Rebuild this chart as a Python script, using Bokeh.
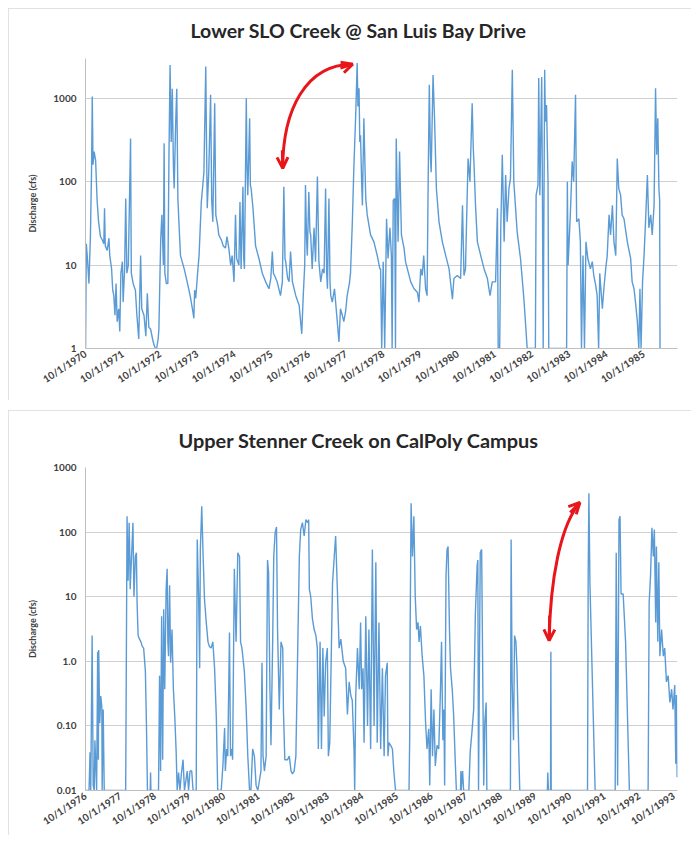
import numpy as np
import pandas as pd
from bokeh.plotting import figure
from bokeh.layouts import column
from bokeh.models import (Range1d, FixedTicker, CustomJSTickFormatter, Arrow, OpenHead, Title)
from bokeh.embed import file_html
from bokeh.resources import INLINE

# ---------------- data (decimal year, discharge cfs) ----------------
slo_title = "Lower SLO Creek @ San Luis Bay Drive"
slo_year = [1970.75, 1970.77, 1970.80, 1970.84, 1970.88, 1970.91, 1970.93, 1970.95, 1970.98, 1971.02,
            1971.06, 1971.10, 1971.15, 1971.20, 1971.24, 1971.26, 1971.28, 1971.33, 1971.38, 1971.40,
            1971.45, 1971.48, 1971.51, 1971.54, 1971.57, 1971.60, 1971.64, 1971.67, 1971.70, 1971.74,
            1971.76, 1971.80, 1971.83, 1971.86, 1971.90, 1971.96, 1971.98, 1972.03, 1972.09, 1972.13,
            1972.18, 1972.23, 1972.26, 1972.32, 1972.37, 1972.41, 1972.45, 1972.50, 1972.55, 1972.59,
            1972.63, 1972.66, 1972.70, 1972.72, 1972.75, 1972.77, 1972.80, 1972.84, 1972.86, 1972.88,
            1972.92, 1972.96, 1972.99, 1973.02, 1973.05, 1973.08, 1973.11, 1973.13, 1973.17, 1973.20,
            1973.23, 1973.27, 1973.30, 1973.40, 1973.48, 1973.56, 1973.62, 1973.66, 1973.68, 1973.71,
            1973.76, 1973.80, 1973.86, 1973.90, 1973.93, 1973.98, 1974.00, 1974.02, 1974.06, 1974.11,
            1974.14, 1974.17, 1974.22, 1974.25, 1974.30, 1974.33, 1974.40, 1974.45, 1974.51, 1974.55,
            1974.60, 1974.65, 1974.69, 1974.74, 1974.78, 1974.81, 1974.87, 1974.90, 1974.93, 1974.98,
            1975.00, 1975.02, 1975.07, 1975.09, 1975.11, 1975.16, 1975.18, 1975.20, 1975.25, 1975.32,
            1975.41, 1975.50, 1975.59, 1975.68, 1975.73, 1975.77, 1975.80, 1975.83, 1975.90, 1975.99,
            1976.04, 1976.08, 1976.11, 1976.13, 1976.18, 1976.22, 1976.26, 1976.31, 1976.40, 1976.49,
            1976.56, 1976.60, 1976.64, 1976.66, 1976.69, 1976.71, 1976.75, 1976.78, 1976.80, 1976.84,
            1976.89, 1976.93, 1976.98, 1977.02, 1977.07, 1977.12, 1977.16, 1977.20, 1977.23, 1977.25,
            1977.29, 1977.32, 1977.34, 1977.38, 1977.44, 1977.50, 1977.56, 1977.60, 1977.65, 1977.69,
            1977.74, 1977.78, 1977.84, 1977.87, 1977.92, 1977.96, 1978.01, 1978.05, 1978.07, 1978.10,
            1978.12, 1978.14, 1978.17, 1978.19, 1978.23, 1978.28, 1978.32, 1978.41, 1978.50, 1978.59,
            1978.66, 1978.68, 1978.71, 1978.75, 1978.79, 1978.84, 1978.88, 1978.93, 1978.97, 1978.99,
            1979.02, 1979.06, 1979.08, 1979.10, 1979.15, 1979.19, 1979.24, 1979.31, 1979.35, 1979.40,
            1979.49, 1979.58, 1979.67, 1979.71, 1979.76, 1979.80, 1979.84, 1979.89, 1979.93, 1979.96,
            1979.99, 1980.02, 1980.04, 1980.09, 1980.13, 1980.18, 1980.25, 1980.34, 1980.43, 1980.52,
            1980.61, 1980.65, 1980.74, 1980.83, 1980.88, 1980.92, 1980.96, 1981.03, 1981.08, 1981.14,
            1981.17, 1981.19, 1981.23, 1981.28, 1981.37, 1981.46, 1981.55, 1981.62, 1981.68, 1981.77,
            1981.82, 1981.84, 1981.88, 1981.91, 1981.95, 1982.00, 1982.04, 1982.08, 1982.13, 1982.17,
            1982.22, 1982.26, 1982.35, 1982.44, 1982.53, 1982.62, 1982.84, 1982.86, 1982.91, 1982.93,
            1982.96, 1983.01, 1983.03, 1983.05, 1983.09, 1983.11, 1983.14, 1983.18, 1983.20, 1983.68,
            1983.70, 1983.72, 1983.78, 1983.83, 1983.87, 1983.92, 1983.95, 1984.01, 1984.05, 1984.08,
            1984.12, 1984.16, 1984.20, 1984.25, 1984.32, 1984.37, 1984.41, 1984.46, 1984.50, 1984.54,
            1984.57, 1984.64, 1984.68, 1984.73, 1984.77, 1984.82, 1984.86, 1984.91, 1984.95, 1985.00,
            1985.04, 1985.08, 1985.13, 1985.17, 1985.22, 1985.31, 1985.40, 1985.44, 1985.49, 1985.53,
            1985.58, 1985.62, 1985.65, 1985.68, 1985.72, 1985.76, 1985.80, 1985.85, 1985.89, 1985.94,
            1985.98, 1986.03, 1986.07, 1986.10, 1986.13, 1986.16, 1986.18, 1986.19]
slo_cfs = [1, 18, 12, 6, 22, 130, 1050, 160, 230, 180,
           60, 33, 22, 20, 18, 48, 17, 15, 21, 13,
           9, 5, 4.3, 2.5, 6, 2.1, 3, 1.6, 8, 11,
           3.6, 9, 63, 8, 10, 330, 8, 6, 5, 2.5,
           1.3, 13, 3, 2.5, 1.4, 4.6, 1.8, 1.7, 1.3, 1.1,
           1, 1, 1.3, 1.7, 8, 21, 40, 10, 290, 8,
           6, 6, 200, 2500, 300, 1300, 150, 83, 500, 1300,
           63, 25, 13, 9, 6.3, 4.3, 3, 2.3, 5, 4,
           8, 13, 57, 90, 130, 2400, 300, 48, 130, 1100,
           60, 33, 870, 40, 30, 23, 20, 17, 16, 22,
           16, 10, 13, 6.3, 40, 12, 10, 57, 9, 87,
           12, 9, 1000, 150, 69, 575, 90, 83, 48, 17,
           12, 8, 6.3, 5.2, 7, 14.5, 8, 7.5, 6.3, 4.3,
           6.3, 87, 12, 11, 7, 6.3, 14.5, 6.3, 4.3, 3.3,
           1.5, 4.3, 10, 91, 20, 13, 75, 25, 23, 9,
           28, 11, 115, 11, 6.3, 9, 8, 83, 8, 5.2,
           63, 6, 4.3, 3.6, 5.2, 2.5, 1.2, 3, 2.5, 2.1,
           2.8, 4.3, 6, 8, 33, 145, 630, 2650, 800, 1320,
           300, 360, 100, 52, 575, 63, 40, 23, 19, 13,
           9, 9, 1, 11, 1, 36, 12, 28, 13, 1,
           60, 63, 1, 330, 19, 230, 23, 16, 11, 9,
           6.3, 5.2, 4.7, 3.6, 9, 7.5, 13, 5.2, 4.3, 110,
           1450, 200, 130, 1900, 575, 83, 33, 19, 13, 9,
           3.9, 6.9, 7.5, 6.9, 52, 7.5, 9, 190, 100, 870,
           250, 160, 52, 19, 13, 9, 6.9, 4.3, 6.3, 6.3,
           48, 1, 1, 28, 210, 19, 120, 33, 83, 110,
           2200, 100, 25, 12, 4, 1, 1, 69, 91, 1750,
           69, 1800, 69, 1, 2200, 525, 830, 100, 1, 1,
           100, 10, 40, 175, 100, 1100, 33, 36, 19, 1,
           13, 1, 19, 12, 9, 11, 7.5, 5.8, 4.3, 1,
           8, 3, 5.2, 9, 13, 40, 23, 52, 19, 13,
           190, 83, 69, 40, 36, 19, 12, 6.3, 5.2, 3.6,
           2.1, 1, 5.2, 1, 6.3, 13, 33, 120, 28, 40,
           23, 52, 1320, 210, 575, 83, 60, 1]
slo_ticks = list(range(1970, 1986))
slo_yticks = [1, 10, 100, 1000]

stn_title = "Upper Stenner Creek on CalPoly Campus"
stn_year = [1976.75, 1976.85, 1976.88, 1976.90, 1976.94, 1976.97, 1977.00, 1977.02, 1977.07, 1977.10,
            1977.12, 1977.13, 1977.16, 1977.19, 1977.22, 1977.23, 1977.26, 1977.29, 1977.91, 1977.95,
            1977.97, 1977.98, 1978.01, 1978.03, 1978.04, 1978.08, 1978.12, 1978.15, 1978.19, 1978.22,
            1978.24, 1978.27, 1978.31, 1978.35, 1978.39, 1978.43, 1978.48, 1978.51, 1978.54, 1978.62,
            1978.63, 1978.64, 1978.86, 1978.89, 1978.92, 1978.95, 1978.98, 1979.01, 1979.04, 1979.08,
            1979.11, 1979.13, 1979.15, 1979.18, 1979.21, 1979.25, 1979.29, 1979.33, 1979.37, 1979.40,
            1979.44, 1979.48, 1979.52, 1979.57, 1979.61, 1979.69, 1979.73, 1979.77, 1979.82, 1979.86,
            1979.95, 1979.98, 1980.02, 1980.05, 1980.07, 1980.11, 1980.15, 1980.19, 1980.24, 1980.29,
            1980.33, 1980.38, 1980.43, 1980.48, 1980.53, 1980.57, 1980.67, 1980.72, 1980.77, 1980.79,
            1980.83, 1980.86, 1980.91, 1980.94, 1980.98, 1981.00, 1981.05, 1981.10, 1981.15, 1981.20,
            1981.23, 1981.27, 1981.34, 1981.39, 1981.44, 1981.49, 1981.53, 1981.58, 1981.63, 1981.68,
            1981.73, 1981.82, 1981.85, 1981.88, 1981.92, 1981.97, 1982.01, 1982.04, 1982.08, 1982.11,
            1982.16, 1982.19, 1982.23, 1982.27, 1982.30, 1982.35, 1982.40, 1982.45, 1982.47, 1982.51,
            1982.59, 1982.64, 1982.69, 1982.73, 1982.78, 1982.83, 1982.88, 1982.93, 1982.97, 1983.02,
            1983.07, 1983.12, 1983.17, 1983.20, 1983.22, 1983.26, 1983.31, 1983.36, 1983.41, 1983.45,
            1983.48, 1983.53, 1983.57, 1983.61, 1983.65, 1983.69, 1983.74, 1983.77, 1983.81, 1983.84,
            1983.89, 1983.94, 1983.98, 1984.03, 1984.08, 1984.13, 1984.20, 1984.27, 1984.32, 1984.37,
            1984.42, 1984.46, 1984.51, 1984.53, 1984.56, 1984.61, 1984.66, 1984.70, 1984.73, 1984.77,
            1984.80, 1984.85, 1984.90, 1984.94, 1984.99, 1985.04, 1985.09, 1985.14, 1985.18, 1985.23,
            1985.28, 1985.33, 1985.38, 1985.42, 1985.47, 1985.49, 1985.52, 1985.57, 1985.62, 1985.66,
            1985.71, 1986.10, 1986.12, 1986.13, 1986.16, 1986.20, 1986.24, 1986.28, 1986.32, 1986.36,
            1986.39, 1986.43, 1986.48, 1986.53, 1986.58, 1986.62, 1986.67, 1986.70, 1986.74, 1986.78,
            1986.82, 1986.86, 1986.91, 1986.96, 1987.01, 1987.04, 1987.08, 1987.11, 1987.13, 1987.17,
            1987.20, 1987.23, 1987.27, 1987.30, 1987.35, 1987.39, 1987.44, 1987.47, 1987.59, 1987.60,
            1987.61, 1987.65, 1987.68, 1987.83, 1987.87, 1987.92, 1987.97, 1988.02, 1988.07, 1988.09,
            1988.11, 1988.16, 1988.20, 1988.23, 1988.26, 1988.29, 1988.33, 1988.35, 1989.03, 1989.05,
            1989.08, 1989.12, 1989.15, 1989.19, 1989.22, 1989.27, 1989.30, 1990.10, 1990.11, 1990.13,
            1990.19, 1990.20, 1990.21, 1991.26, 1991.28, 1991.30, 1991.33, 1991.48, 1992.06, 1992.09,
            1992.13, 1992.17, 1992.20, 1992.23, 1992.29, 1992.36, 1992.47, 1993.01, 1993.04, 1993.08,
            1993.12, 1993.16, 1993.19, 1993.23, 1993.25, 1993.29, 1993.32, 1993.35, 1993.40, 1993.45,
            1993.49, 1993.54, 1993.59, 1993.64, 1993.69, 1993.73, 1993.78, 1993.81, 1993.83, 1993.85]
stn_cfs = [0.01, 0.01, 0.039, 0.01, 2.5, 0.012, 0.01, 0.06, 0.01, 1.4,
           0.03, 1.5, 0.11, 0.29, 0.2, 0.01, 0.18, 0.01, 0.01, 176,
           30, 17.7, 140, 40, 13, 42, 140, 10, 42, 48,
           8, 2.5, 2.2, 2.0, 1.7, 1.6, 0.7, 0.11, 0.01, 0.01,
           0.019, 0.01, 0.01, 0.6, 0.02, 5, 0.03, 6.4, 0.37, 13,
           27, 2, 1.2, 15, 0.95, 3.1, 0.37, 0.14, 0.04, 0.01,
           0.019, 0.01, 0.018, 0.03, 0.01, 0.02, 0.01, 0.02, 0.02, 0.01,
           0.01, 77, 10, 0.78, 54, 250, 42, 9, 4, 2,
           1.7, 1.6, 2, 0.78, 0.14, 0.01, 0.01, 0.024, 0.093, 0.02,
           0.044, 0.034, 2.8, 0.034, 0.044, 0.03, 27, 2, 48, 42,
           2, 1.6, 0.7, 0.2, 0.034, 0.01, 0.01, 0.044, 0.034, 0.012,
           0.01, 0.02, 0.95, 0.034, 0.02, 0.034, 37, 24, 0.37, 0.05,
           2.2, 42, 98, 120, 3.1, 0.18, 2, 1.6, 0.18, 0.03,
           0.03, 0.034, 0.02, 0.018, 0.02, 0.034, 1.2, 42, 110, 140,
           87, 156, 140, 156, 13, 10, 4.5, 3.1, 2.5, 1.6,
           0.044, 2, 0.044, 1.6, 0.14, 0.95, 1.6, 0.034, 0.055, 0.48,
           16, 42, 87, 13, 1.6, 2.2, 1.0, 0.78, 0.15, 0.48,
           0.29, 0.25, 0.044, 0.01, 0.29, 1.6, 0.37, 4, 0.37, 0.78,
           0.055, 5, 0.1, 3.1, 0.044, 54, 0.1, 34, 0.055, 4,
           0.044, 0.78, 0.034, 0.6, 0.95, 0.034, 0.055, 0.05, 0.044, 0.02,
           0.01, 0.01, 0.07, 2, 280, 42, 176, 10, 3.1, 4,
           2, 3.5, 1.2, 0.6, 0.11, 0.044, 0.09, 0.012, 0.37, 0.034,
           0.18, 0.024, 0.05, 0.044, 0.37, 2, 0.06, 0.18, 0.012, 21,
           54, 60, 3.1, 0.78, 0.37, 0.15, 0.026, 0.01, 0.01, 0.02,
           0.01, 0.02, 0.01, 0.01, 0.04, 0.08, 0.18, 5.7, 30, 37,
           0.01, 48, 54, 0.78, 0.012, 0.11, 0.23, 0.01, 0.01, 77,
           0.48, 0.06, 2.5, 2, 0.78, 0.044, 0.01, 0.01, 0.019, 0.01,
           0.01, 1.4, 0.01, 0.01, 24, 400, 16, 0.01, 0.01, 48,
           0.012, 156, 176, 11, 11, 2, 0.01, 0.01, 8, 21,
           117, 42, 110, 4, 60, 2, 34, 1.2, 3.1, 1.2,
           1.6, 0.48, 0.6, 0.23, 0.37, 0.18, 0.43, 0.026, 0.3, 0.016]
stn_ticks = list(range(1976, 1994))
stn_yticks = [0.01, 0.1, 1, 10, 100, 1000]

# annotation arrows (decimal year, cfs): bezier start, ctrl0, ctrl1, end
slo_arrow_x = [1976.05, 1976.05, 1976.66, 1977.93]
slo_arrow_y = [145, 720, 2566, 2566]
stn_arrow_x = [1990.15, 1990.18, 1990.47, 1991.04]
stn_arrow_y = [2.1, 17.8, 126, 287]

BLUE = "#5B9BD5"
RED = "#E8161B"
FONT = "Lato"
TXT = "#404040"


def dec_to_ms(vals):
    out = []
    for v in vals:
        yr = int(np.floor(v))
        a = pd.Timestamp(yr, 1, 1)
        b = pd.Timestamp(yr + 1, 1, 1)
        t = a + (b - a) * (v - yr)
        out.append(t.value / 1e6)
    return out


def oct1_ms(years):
    return [pd.Timestamp(y, 10, 1).value / 1e6 for y in years]


def make_panel(title, xs, ys, ticks, yticks, x_end, y_lo, y_hi, height,
               border_top, border_bottom, left, title_offset, gap, title_size, ylabels,
               arrow_x, arrow_y, head_starts):
    xms = dec_to_ms(xs)
    x0 = oct1_ms([ticks[0]])[0]
    x1 = dec_to_ms([x_end])[0]
    p = figure(width=683, height=height, x_axis_type="datetime", y_axis_type="log",
               x_range=Range1d(x0, x1), y_range=Range1d(y_lo, y_hi),
               output_backend="svg", toolbar_location=None,
               min_border_left=left, min_border_right=14,
               min_border_top=border_top, min_border_bottom=border_bottom,
               styles={"outline": "1px solid #d9d9d9", "outline-offset": "-1px"})
    p.title.text = title
    p.title.align = "left"
    p.title.offset = title_offset
    p.title.standoff = 4
    p.title.text_font = FONT
    p.title.text_font_style = "bold"
    p.title.text_font_size = title_size
    p.title.text_color = "#262626"
    # blank band between the title and the plot area
    p.add_layout(Title(text=" ", text_font_size="1px", standoff=gap), "above")
    p.outline_line_color = None
    p.background_fill_color = "white"
    p.border_fill_color = "white"

    p.line(xms, ys, line_color=BLUE, line_width=1.4)

    p.xgrid.grid_line_color = None
    p.ygrid.grid_line_color = "#d0d0d0"
    p.ygrid.grid_line_width = 1
    p.ygrid.ticker = FixedTicker(ticks=yticks)

    p.yaxis.ticker = FixedTicker(ticks=yticks)
    p.yaxis.formatter = CustomJSTickFormatter(
        args=dict(labels=ylabels),
        code="return labels[String(Math.round(Math.log10(tick)))];")
    p.yaxis.axis_label = "Discharge (cfs)"
    p.yaxis.axis_label_text_font = FONT
    p.yaxis.axis_label_text_font_style = "bold"
    p.yaxis.axis_label_text_font_size = "9px"
    p.yaxis.axis_label_text_color = TXT
    p.yaxis.axis_label_standoff = 12

    p.xaxis.ticker = FixedTicker(ticks=oct1_ms(ticks))
    p.xaxis.formatter = CustomJSTickFormatter(code="""
        const d = new Date(tick);
        return (d.getUTCMonth() + 1) + "/" + d.getUTCDate() + "/" + d.getUTCFullYear();""")
    p.xaxis.major_label_orientation = 0.58

    for ax in (p.xaxis, p.yaxis):
        ax.major_label_text_font = FONT
        ax.major_label_text_font_style = "bold"
        ax.major_label_text_font_size = "10px"
        ax.major_label_text_color = TXT
        ax.axis_line_color = "#bfbfbf"
        ax.major_tick_line_color = None
        ax.minor_tick_line_color = None
        ax.major_tick_out = 0
        ax.major_tick_in = 0
        ax.minor_tick_out = 0
        ax.minor_tick_in = 0
    p.xaxis.major_label_standoff = 4
    p.yaxis.major_label_standoff = 9

    ax_ms = dec_to_ms(arrow_x)
    p.bezier(x0=[ax_ms[0]], y0=[arrow_y[0]], cx0=[ax_ms[1]], cy0=[arrow_y[1]],
             cx1=[ax_ms[2]], cy1=[arrow_y[2]], x1=[ax_ms[3]], y1=[arrow_y[3]],
             line_color=RED, line_width=3)
    hs = dec_to_ms([h[0] for h in head_starts])
    for (hx, (_, hy)), (ex, ey) in zip(zip(hs, head_starts),
                                       [(ax_ms[0], arrow_y[0]), (ax_ms[3], arrow_y[3])]):
        p.add_layout(Arrow(x_start=hx, y_start=hy, x_end=ex, y_end=ey,
                           line_color=RED, line_width=3,
                           end=OpenHead(line_color=RED, line_width=3, size=11)))
    return p


p1 = make_panel(slo_title, slo_year, slo_cfs, slo_ticks, slo_yticks, 1986.66, 1, 3000,
                392, 50, 52, 77, 105, 12, "19.5px",
                {"0": "1", "1": "10", "2": "100", "3": "1000"},
                slo_arrow_x, slo_arrow_y, [(1976.04, 238), (1977.60, 2300)])
p2 = make_panel(stn_title, stn_year, stn_cfs, stn_ticks, stn_yticks, 1993.86, 0.01, 1000,
                425, 57, 45, 76, 93, 11, "19.9px",
                {"-2": "0.01", "-1": "0.10", "0": "1.0", "1": "10", "2": "100", "3": "1000"},
                stn_arrow_x, stn_arrow_y, [(1990.165, 5.1), (1990.76, 201)])

layout = column(p1, p2, spacing=10, margin=(8, 0, 0, 8))
open("out.html", "w").write(file_html(layout, INLINE))
